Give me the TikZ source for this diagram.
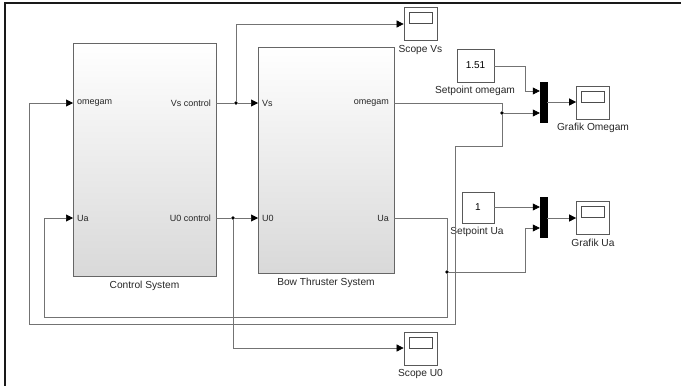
\documentclass[tikz,border=0pt]{standalone}
\usepackage{fontspec}
\setmainfont{Liberation Sans}
\usetikzlibrary{arrows.meta}
\begin{document}
\begin{tikzpicture}[x=1pt,y=-1pt,
  wire/.style={draw=black!55, line width=0.6pt},
  arr/.style={wire,-{Triangle[length=7pt,width=7pt,color=black,fill=black]}},
  subsys/.style={draw=black!60, line width=0.7pt, top color=white, middle color=white, bottom color=black!15, inner sep=0pt},
  lbl/.style={font=\fontsize{10.2}{12}\selectfont, text=black!85, inner sep=0pt},
  port/.style={font=\fontsize{9}{11}\selectfont, text=black!85, inner sep=0pt},
  scopeblk/.style={draw=black!65, fill=white, line width=0.7pt, minimum width=33pt, minimum height=33pt, inner sep=0pt,
    path picture={\draw[black!70, line width=0.7pt] ([xshift=5pt,yshift=-5pt]path picture bounding box.north west) rectangle ([xshift=-5pt,yshift=-16pt]path picture bounding box.north east);}},
  constblk/.style={draw=black!65, fill=white, line width=0.7pt, inner sep=0pt, font=\fontsize{10}{12}\selectfont},
  muxblk/.style={fill=black, draw=black, minimum width=7pt, minimum height=40pt, inner sep=0pt},
  dot/.style={circle, fill=black, inner sep=0pt, minimum size=3.6pt}
]
\useasboundingbox (0,0) rectangle (681,386);
\draw[line width=2pt, black!90] (5,386) -- (5,3.3) -- (681,3.3);

% main blocks
\node[subsys, minimum width=143pt, minimum height=233pt] (cs) at (144.5,159.5) {};
\node[subsys, minimum width=136pt, minimum height=226pt] (bt) at (326,160) {};
\node[lbl] (csl) at (144.5,286) {Control System};
\node[lbl] (btl) at (326,283) {Bow Thruster System};

% ports
\coordinate (csin1) at (73,103);
\coordinate (csin2) at (73,218);
\coordinate (csout1) at (216,103);
\coordinate (csout2) at (216,218);
\coordinate (btin1) at (258,103);
\coordinate (btin2) at (258,218);
\coordinate (btout1) at (394,103);
\coordinate (btout2) at (394,218);
\node[port, anchor=west] (p1) at (77,103) {omegam};
\node[port, anchor=west] (p2) at (77,218) {Ua};
\node[port, anchor=east] (p3) at (211,103) {Vs control};
\node[port, anchor=east] (p4) at (211,218) {U0 control};
\node[port, anchor=west] (p5) at (262,103) {Vs};
\node[port, anchor=west] (p6) at (262,218) {U0};
\node[port, anchor=east] (p7) at (389,103) {omegam};
\node[port, anchor=east] (p8) at (389,218) {Ua};

% scopes
\node[scopeblk] (svs) at (420.5,23.5) {};
\node[lbl] (svsl) at (420.5,50) {Scope Vs};
\node[scopeblk] (su0) at (420.5,349) {};
\node[lbl] (su0l) at (420.5,374) {Scope U0};
\node[scopeblk] (gom) at (593,102.5) {};
\node[lbl] (goml) at (593,128) {Grafik Omegam};
\node[scopeblk] (gua) at (593,217.5) {};
\node[lbl] (gual) at (593,243) {Grafik Ua};

% constants
\node[constblk, minimum width=37pt, minimum height=33pt] (c1) at (475.5,65.5) {1.51};
\node[lbl] (c1l) at (475,91) {Setpoint omegam};
\node[constblk, minimum width=32pt, minimum height=31pt] (c2) at (478,207.5) {1};
\node[lbl] (c2l) at (477,232) {Setpoint Ua};

% muxes
\node[muxblk] (m1) at (543.5,102) {};
\node[muxblk] (m2) at (543.5,217.5) {};

% junctions
\node[dot] (j1) at (236,103) {};
\node[dot] (j2) at (233,218) {};
\node[dot] (j3) at (502,113) {};
\node[dot] (j4) at (447,272) {};

% connections
\draw[wire] (csout1) -- (j1);
\draw[arr] (j1) -- (btin1);
\draw[arr] (j1) |- (svs.west |- 0,24);
\draw[wire] (csout2) -- (j2);
\draw[arr] (j2) -- (btin2);
\draw[arr] (j2) |- (su0.west |- 0,348);

\draw[wire] (btout1) -| (j3);
\draw[arr] (j3) -- (m1.west |- j3);
\draw[arr] (j3) -- (502,146) -- (455,146) -- (455,324) -- (29,324) -- (29,103) -- (csin1);

\draw[wire] (btout2) -| (j4);
\draw[arr] (j4) -- (447,317) -- (44,317) -- (44,218) -- (csin2);
\draw[arr] (j4) -- (525,272) -- (525,228) -- (m2.west |- 0,228);

\draw[arr] (c1.east |- 0,66) -- (525,66) -- (525,91) -- (m1.west |- 0,91);
\draw[arr] (c2.east |- 0,207) -- (m2.west |- 0,207);

\draw[arr] (m1.east) -- (gom.west |- m1.east);
\draw[arr] (m2.east |- 0,218) -- (gua.west |- 0,218);
\end{tikzpicture}
\end{document}
